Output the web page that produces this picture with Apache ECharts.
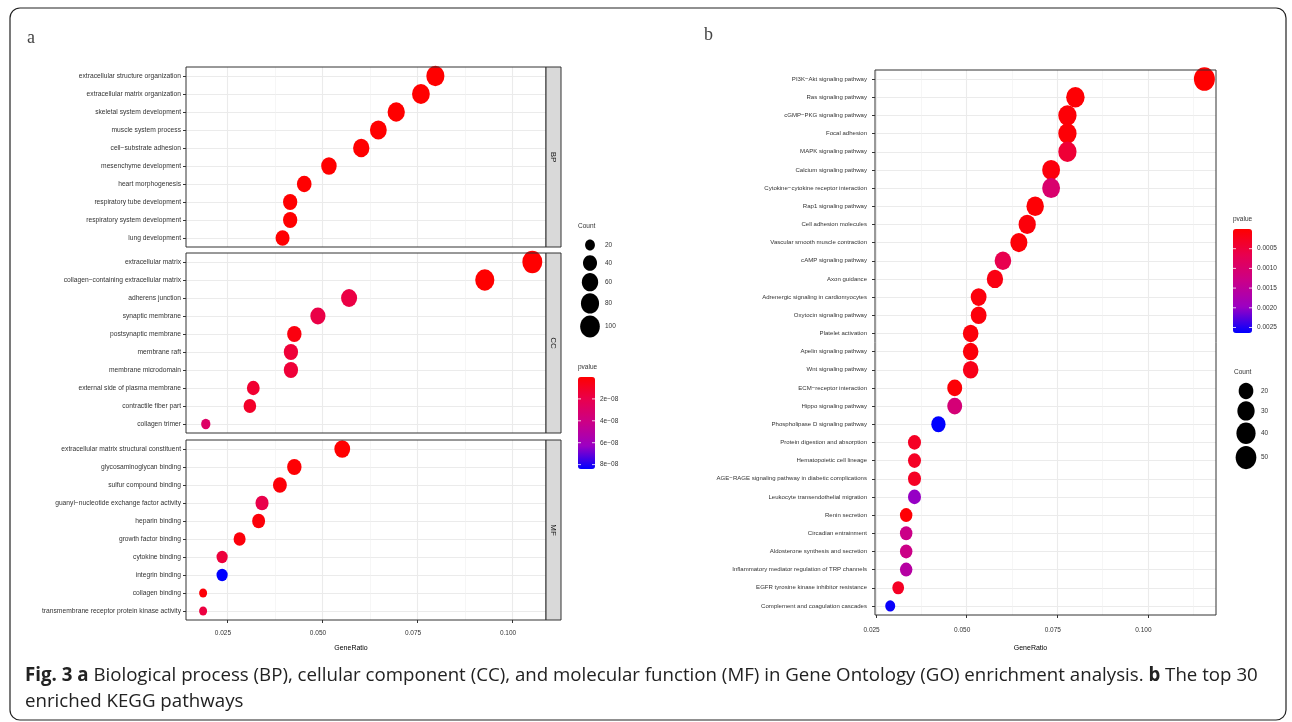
<!DOCTYPE html>
<html>
<head>
<meta charset="utf-8">
<script src="https://cdn.jsdelivr.net/npm/echarts@6/dist/echarts.min.js"></script>
<style>
html, body { margin: 0; padding: 0; background: #fff; }
#main { width: 1292px; height: 722px; }
</style>
</head>
<body>
<div id="main"></div>
<script>
// GO enrichment, panel a
var bpTerms = ['extracellular structure organization', 'extracellular matrix organization', 'skeletal system development',
    'muscle system process', 'cell\u2212substrate adhesion', 'mesenchyme development', 'heart morphogenesis',
    'respiratory tube development', 'respiratory system development', 'lung development'];
var bpRatio = [0.0797, 0.0759, 0.0694, 0.0647, 0.0602, 0.0517, 0.0452, 0.0415, 0.0415, 0.0395];
var bpCount = [80, 76, 70, 65, 60, 52, 45, 42, 42, 40];
var bpPvalue = [1.2e-12, 3.5e-12, 8.1e-11, 2.4e-11, 6.0e-11, 4.2e-11, 1.5e-10, 2.2e-10, 2.9e-10, 3.1e-10];

var ccTerms = ['extracellular matrix', 'collagen\u2212containing extracellular matrix', 'adherens junction',
    'synaptic membrane', 'postsynaptic membrane', 'membrane raft', 'membrane microdomain',
    'external side of plasma membrane', 'contractile fiber part', 'collagen trimer'];
var ccRatio = [0.1052, 0.0927, 0.0570, 0.0488, 0.0426, 0.0417, 0.0417, 0.0318, 0.0309, 0.0193];
var ccCount = [105, 93, 57, 49, 43, 42, 42, 32, 31, 19];
var ccPvalue = [2.0e-12, 5.0e-12, 1.8e-8, 1.9e-8, 0.4e-8, 1.5e-8, 1.5e-8, 1.3e-8, 1.1e-8, 2.9e-8];

var mfTerms = ['extracellular matrix structural constituent', 'glycosaminoglycan binding', 'sulfur compound binding',
    'guanyl\u2212nucleotide exchange factor activity', 'heparin binding', 'growth factor binding', 'cytokine binding',
    'integrin binding', 'collagen binding', 'transmembrane receptor protein kinase activity'];
var mfRatio = [0.0552, 0.0426, 0.0388, 0.0341, 0.0332, 0.0282, 0.0236, 0.0236, 0.0186, 0.0186];
var mfCount = [55, 43, 39, 34, 33, 28, 24, 24, 18, 18];
var mfPvalue = [1.0e-12, 1.0e-9, 2.0e-9, 2.0e-8, 2.5e-9, 3.0e-9, 1.6e-8, 8.4e-8, 2.0e-9, 1.7e-8];

// KEGG top 30, panel b
var keggTerms = ['PI3K\u2212Akt signaling pathway', 'Ras signaling pathway', 'cGMP\u2212PKG signaling pathway', 'Focal adhesion',
    'MAPK signaling pathway', 'Calcium signaling pathway', 'Cytokine\u2212cytokine receptor interaction', 'Rap1 signaling pathway',
    'Cell adhesion molecules', 'Vascular smooth muscle contraction', 'cAMP signaling pathway', 'Axon guidance',
    'Adrenergic signaling in cardiomyocytes', 'Oxytocin signaling pathway', 'Platelet activation', 'Apelin signaling pathway',
    'Wnt signaling pathway', 'ECM\u2212receptor interaction', 'Hippo signaling pathway', 'Phospholipase D signaling pathway',
    'Protein digestion and absorption', 'Hematopoietic cell lineage', 'AGE\u2212RAGE signaling pathway in diabetic complications',
    'Leukocyte transendothelial migration', 'Renin secretion', 'Circadian entrainment', 'Aldosterone synthesis and secretion',
    'Inflammatory mediator regulation of TRP channels', 'EGFR tyrosine kinase inhibitor resistance', 'Complement and coagulation cascades'];
var keggRatio = [0.1156, 0.0800, 0.0778, 0.0778, 0.0778, 0.0733, 0.0733, 0.0689, 0.0667, 0.0644, 0.0600, 0.0578, 0.0533, 0.0533, 0.0511,
    0.0511, 0.0511, 0.0467, 0.0467, 0.0422, 0.0356, 0.0356, 0.0356, 0.0356, 0.0333, 0.0333, 0.0333, 0.0333, 0.0311, 0.0289];
var keggCount = [52, 36, 35, 35, 35, 33, 33, 31, 30, 29, 27, 26, 24, 24, 23, 23, 23, 21, 21, 19, 16, 16, 16, 16, 15, 15, 15, 15, 14, 13];
var keggPvalue = [1e-8, 3e-5, 5e-5, 5e-5, 4.5e-4, 1e-4, 1.0e-3, 4e-5, 8e-5, 6e-5, 6.6e-4, 1.5e-4, 1e-4, 1e-4, 8e-5,
    8e-5, 2e-4, 5e-5, 1.1e-3, 2.64e-3, 3e-4, 3e-4, 3e-4, 2.0e-3, 3e-5, 1.3e-3, 1.3e-3, 1.6e-3, 3e-4, 2.6e-3];

// axis + legend ticks
var ratioTicks = [0.025, 0.050, 0.075, 0.100];
var ratioMinorTicks = [0.0375, 0.0625, 0.0875, 0.1125];
var goCountTicks = [20, 40, 60, 80, 100];
var goPvalueTicks = [2e-8, 4e-8, 6e-8, 8e-8];
var goPvalueLabels = ['2e\u221208', '4e\u221208', '6e\u221208', '8e\u221208'];
var keggCountTicks = [20, 30, 40, 50];
var keggPvalueTicks = [0.0005, 0.0010, 0.0015, 0.0020, 0.0025];
var keggPvalueLabels = ['0.0005', '0.0010', '0.0015', '0.0020', '0.0025'];

var chart = echarts.init(document.getElementById('main'));

var redBlue = ['#FF0000', '#E8004F', '#CA0089', '#9B00C3', '#0000FF'];
var font = 'Liberation Sans';
var txtColor = '#333';
var gridCol = '#EBEBEB';
var stretch = 1.12;   // points look a bit taller than wide

// size scales (area-like, as ggplot)
function goSize(c) { return 8 + 12 * Math.sqrt(Math.max(c - 18, 0) / 87); }
function keggSize(c) { return 10 + 11 * Math.sqrt(Math.max(c - 13, 0) / 39); }

// panel boxes
var boxes = [
    {left: 186, top: 67, width: 360, height: 180},
    {left: 186, top: 253, width: 360, height: 180},
    {left: 186, top: 440, width: 360, height: 180},
    {left: 875, top: 70, width: 341, height: 545}
];
var goRange = [0.0141, 0.1088];
var keggRange = [0.0247, 0.1188];
// per panel: y label size / gap, x label gap, title gap
var panelText = [
    {yFont: 6.7, yGap: 5, xGap: 10, nameGap: 25},
    {yFont: 6.7, yGap: 5, xGap: 10, nameGap: 25},
    {yFont: 6.7, yGap: 5, xGap: 10, nameGap: 25},
    {yFont: 6.05, yGap: 8, xGap: 12, nameGap: 30}
];

var grids = boxes.map(function (b) {
    return {left: b.left, top: b.top, width: b.width, height: b.height};
});

function inRange(list, r) { return list.filter(function (v) { return v > r[0] && v < r[1]; }); }

var xAxes = [];
[goRange, goRange, goRange, keggRange].forEach(function (r, g) {
    var showLab = (g === 2 || g === 3);
    var major = inRange(ratioTicks, r);
    var pt = panelText[g];
    xAxes.push({
        type: 'value', gridIndex: g, min: r[0], max: r[1], position: 'bottom',
        axisLine: {show: false, onZero: false},
        axisTick: {show: showLab, length: 3, lineStyle: {color: txtColor}, customValues: major},
        axisLabel: {
            show: showLab, fontSize: 6.5, color: txtColor, fontFamily: font, margin: pt.xGap, customValues: major,
            padding: [0, 9, 0, 0],
            formatter: function (v) { return v.toFixed(3); }
        },
        splitLine: {show: true, lineStyle: {color: gridCol, width: 1.1}},
        name: showLab ? 'GeneRatio' : '', nameLocation: 'middle', nameGap: pt.nameGap,
        nameTextStyle: {fontSize: 7, color: '#000', fontFamily: font, padding: [0, 30, 0, 0]}
    });
    // minor grid
    var minor = inRange(ratioMinorTicks, r);
    xAxes.push({
        type: 'value', gridIndex: g, min: r[0], max: r[1], position: 'top',
        axisLine: {show: false, onZero: false},
        axisTick: {show: false, customValues: minor},
        axisLabel: {show: false, customValues: minor},
        splitLine: {show: true, lineStyle: {color: '#F0F0F0', width: 0.6}}
    });
});

function makeY(g, terms) {
    var idx = terms.map(function (t, i) { return i; });
    var pt = panelText[g];
    return {
        type: 'value', gridIndex: g, min: -0.5, max: terms.length - 0.5, inverse: true,
        position: 'left',
        axisLine: {show: false, onZero: false},
        axisTick: {show: true, length: 3, lineStyle: {color: txtColor}, customValues: idx},
        axisLabel: {
            show: true, fontSize: pt.yFont, color: txtColor, fontFamily: font, margin: pt.yGap, customValues: idx,
            formatter: function (v) { return terms[Math.round(v)]; }
        },
        splitLine: {show: true, lineStyle: {color: gridCol, width: 1.1}}
    };
}
var yAxes = [makeY(0, bpTerms), makeY(1, ccTerms), makeY(2, mfTerms), makeY(3, keggTerms)];

function pack(ratio, count, pv) {
    return ratio.map(function (r, i) { return [r, i, count[i], pv[i]]; });
}
function scatter(g, data, sizeFn) {
    return {
        type: 'scatter', xAxisIndex: 2 * g, yAxisIndex: g, data: data, z: 3,
        symbolSize: function (val) { var d = sizeFn(val[2]); return [d, d * stretch]; },
        itemStyle: {opacity: 1}, silent: true, animation: false
    };
}
var series = [
    scatter(0, pack(bpRatio, bpCount, bpPvalue), goSize),
    scatter(1, pack(ccRatio, ccCount, ccPvalue), goSize),
    scatter(2, pack(mfRatio, mfCount, mfPvalue), goSize),
    scatter(3, pack(keggRatio, keggCount, keggPvalue), keggSize)
];

// colour bars
var goBar = {left: 578, top: 377, w: 17, h: 92, min: 0, max: 8.4e-8};
var keggBar = {left: 1233, top: 229, w: 19, h: 104, min: 0, max: 0.00264};
function vmap(idx, bar) {
    return {
        type: 'continuous', seriesIndex: idx, dimension: 3, min: bar.min, max: bar.max,
        inRange: {color: redBlue}, inverse: true, calculable: false, orient: 'vertical',
        left: bar.left, top: bar.top, itemWidth: bar.w, itemHeight: bar.h, padding: 0,
        text: null, showLabel: false, hoverLink: false
    };
}

var graphic = [];
function txt(x, y, s, opt) {
    var st = {text: s, fill: txtColor, font: '6.5px "' + font + '"', textAlign: 'left', textVerticalAlign: 'middle'};
    for (var k in (opt || {})) st[k] = opt[k];
    graphic.push({type: 'text', x: x, y: y, z: 50, style: st, silent: true});
}

function barLegend(bar, title, ticks, labels) {
    txt(bar.left, bar.top - 10, title);
    ticks.forEach(function (t, i) {
        var y = bar.top + (t - bar.min) / (bar.max - bar.min) * bar.h;
        txt(bar.left + bar.w + 5, y, labels[i]);
        graphic.push({type: 'line', z: 60, silent: true, shape: {x1: bar.left, y1: y, x2: bar.left + 3, y2: y}, style: {stroke: '#fff', lineWidth: 0.8}});
        graphic.push({type: 'line', z: 60, silent: true, shape: {x1: bar.left + bar.w - 3, y1: y, x2: bar.left + bar.w, y2: y}, style: {stroke: '#fff', lineWidth: 0.8}});
    });
}
function sizeLegend(x, top, title, ticks, sizeFn) {
    txt(x - 12, top - 19, title);
    var y = top, prev = null;
    ticks.forEach(function (c) {
        var d = sizeFn(c), key = Math.max(18, d * stretch + 2);
        if (prev !== null) y += (prev + key) / 2;
        graphic.push({type: 'ellipse', z: 50, silent: true, shape: {cx: x, cy: y, rx: d / 2, ry: d * stretch / 2}, style: {fill: '#000'}});
        txt(x + 15, y, String(c));
        prev = key;
    });
}

barLegend(goBar, 'pvalue', goPvalueTicks, goPvalueLabels);
barLegend(keggBar, 'pvalue', keggPvalueTicks, keggPvalueLabels);
sizeLegend(590, 245, 'Count', goCountTicks, goSize);
sizeLegend(1246, 391, 'Count', keggCountTicks, keggSize);

// panel borders and facet strips
boxes.forEach(function (b) {
    graphic.push({type: 'rect', z: 40, silent: true, shape: {x: b.left, y: b.top, width: b.width, height: b.height},
        style: {fill: null, stroke: '#333', lineWidth: 1}});
});
['BP', 'CC', 'MF'].forEach(function (s, i) {
    var b = boxes[i];
    graphic.push({type: 'rect', z: 40, silent: true, shape: {x: b.left + b.width, y: b.top, width: 15, height: b.height},
        style: {fill: '#D9D9D9', stroke: '#333', lineWidth: 1}});
    graphic.push({type: 'text', z: 45, silent: true, x: b.left + b.width + 7.5, y: b.top + b.height / 2, rotation: -Math.PI / 2,
        style: {text: s, fill: '#1A1A1A', font: '8px "' + font + '"', textAlign: 'center', textVerticalAlign: 'middle'}});
});

// frame, panel letters, caption
graphic.push({type: 'rect', z: 1, silent: true, shape: {x: 10, y: 8, width: 1276, height: 712, r: 10},
    style: {fill: null, stroke: '#222', lineWidth: 1.2}});
txt(27, 38, 'a', {font: '18px "Liberation Serif"', fill: '#444'});
txt(704, 35, 'b', {font: '18px "Liberation Serif"', fill: '#444'});
graphic.push({type: 'text', z: 50, silent: true, x: 25, y: 676,
    style: {
        text: '{b|Fig. 3 a} Biological process (BP), cellular component (CC), and molecular function (MF) in Gene Ontology (GO) enrichment analysis. {b|b} The top 30',
        fill: '#222', font: '18.7px "Open Sans"', textVerticalAlign: 'middle',
        rich: {b: {fontWeight: 'bold', fontSize: 18.7, fontFamily: 'Open Sans', fill: '#222'}}
    }});
txt(25, 702, 'enriched KEGG pathways', {font: '18.7px "Open Sans"', fill: '#222'});

chart.setOption({
    animation: false,
    backgroundColor: '#fff',
    grid: grids,
    xAxis: xAxes,
    yAxis: yAxes,
    visualMap: [vmap([0, 1, 2], goBar), vmap(3, keggBar)],
    series: series,
    graphic: graphic
});
</script>
</body>
</html>
